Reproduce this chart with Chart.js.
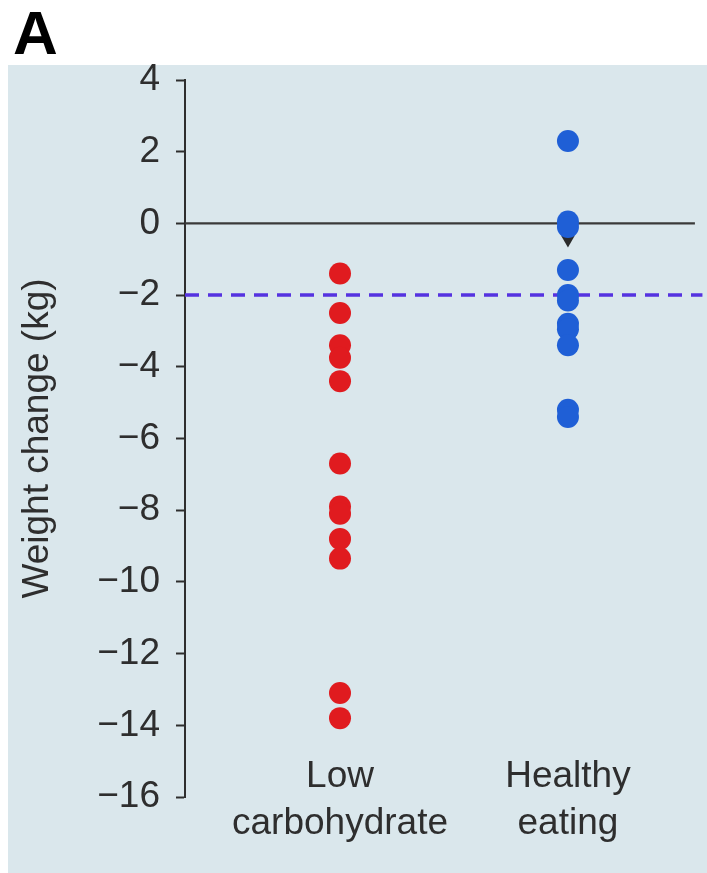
<!DOCTYPE html>
<html>
<head>
<meta charset="utf-8">
<script src="https://cdn.jsdelivr.net/npm/chart.js@4/dist/chart.umd.min.js"></script>
<style>
  html, body { margin: 0; padding: 0; background: #ffffff; }
  canvas { display: block; }
</style>
</head>
<body>
<canvas id="chart" width="707" height="873"></canvas>
<script>
// Weight change (kg) per participant, by diet group
const groupNames = ['Low carbohydrate', 'Healthy eating'];
const groupLabels = [['Low', 'carbohydrate'], ['Healthy', 'eating']];
const groupPositions = [1, 2];
const lowCarbChange = [-1.4, -2.5, -3.4, -3.75, -4.4, -6.7, -7.9, -8.1, -8.8, -9.35, -13.1, -13.8];
const healthyChange = [2.3, 0.05, -0.1, -1.3, -2.0, -2.15, -2.8, -2.95, -3.4, -5.2, -5.4];
const healthyMarker = [-0.45];
const yTickValues = [4, 2, 0, -2, -4, -6, -8, -10, -12, -14, -16];
const zeroLevel = 0;
const referenceLevel = -2;

// horizontal extent of the x scale (group units)
const xMin = 0.32, xMax = 2.61;
const zeroLineEnd = 2.557, referenceLineEnd = 2.59;

const FONT = '"Liberation Sans", Arial, Helvetica, sans-serif';
const INK = '#2e2e2e';
const PANEL = '#dae7ec';

const panelPlugin = {
  id: 'panel',
  beforeDraw(chart) {
    const ctx = chart.ctx;
    ctx.save();
    ctx.fillStyle = '#ffffff';
    ctx.fillRect(0, 0, chart.width, chart.height);
    ctx.fillStyle = PANEL;
    ctx.fillRect(8, 65, chart.width - 8, chart.height - 65);
    ctx.fillStyle = '#000000';
    ctx.font = 'bold 62px ' + FONT;
    ctx.textBaseline = 'alphabetic';
    ctx.textAlign = 'left';
    ctx.fillText('A', 13, 54);
    ctx.restore();
  }
};

const points = (xs, ys) => ys.map(v => ({ x: xs, y: v }));

new Chart(document.getElementById('chart'), {
  type: 'scatter',
  data: {
    datasets: [
      {
        label: groupNames[0],
        data: points(groupPositions[0], lowCarbChange),
        backgroundColor: '#e01b1f',
        borderColor: '#e01b1f',
        pointRadius: 11,
        pointBorderWidth: 0
      },
      {
        label: groupNames[1],
        data: points(groupPositions[1], healthyChange),
        backgroundColor: '#1f5fd6',
        borderColor: '#1f5fd6',
        pointRadius: 11,
        pointBorderWidth: 0
      },
      {
        label: 'marker',
        data: points(groupPositions[1], healthyMarker),
        backgroundColor: '#2b2b2b',
        borderColor: '#2b2b2b',
        pointStyle: 'triangle',
        rotation: 180,
        pointRadius: 8,
        pointBorderWidth: 0
      },
      {
        type: 'line',
        label: 'zero',
        data: [{ x: xMin, y: zeroLevel }, { x: zeroLineEnd, y: zeroLevel }],
        borderColor: '#3a3a3a',
        borderWidth: 2.2,
        pointRadius: 0,
        fill: false
      },
      {
        type: 'line',
        label: 'reference',
        data: [{ x: xMin, y: referenceLevel }, { x: referenceLineEnd, y: referenceLevel }],
        borderColor: '#5533e0',
        borderWidth: 3.5,
        borderDash: [14, 9],
        pointRadius: 0,
        fill: false
      }
    ]
  },
  options: {
    responsive: false,
    animation: false,
    devicePixelRatio: 1,
    layout: { autoPadding: false, padding: { left: 8, top: 80, right: 0, bottom: 0 } },
    plugins: {
      legend: { display: false },
      tooltip: { enabled: false }
    },
    scales: {
      x: {
        type: 'linear',
        min: xMin,
        max: xMax,
        afterBuildTicks(scale) {
          scale.ticks = groupPositions.map(v => ({ value: v }));
        },
        afterFit(scale) {
          scale.height = 76;
          scale.paddingLeft = 0;
          scale.paddingRight = 0;
          // group names sit just above the lower end of the value axis
          scale._computeLabelArea = () => undefined;
        },
        grid: { display: false, drawTicks: false },
        border: { display: false },
        ticks: {
          autoSkip: false,
          maxRotation: 0,
          padding: -43,
          color: INK,
          font: { family: FONT, size: 37, lineHeight: 1.25 },
          callback: (v, i) => groupLabels[i]
        }
      },
      y: {
        min: -16,
        max: 4,
        afterBuildTicks(scale) {
          scale.ticks = yTickValues.map(v => ({ value: v }));
        },
        afterFit(scale) {
          scale.width = 177;
          scale.paddingTop = 0;
          scale.paddingBottom = 0;
        },
        grid: {
          drawOnChartArea: false,
          drawTicks: true,
          tickLength: 9,
          tickWidth: 2,
          tickColor: INK
        },
        border: { display: true, color: INK, width: 2 },
        ticks: {
          padding: 16,
          color: INK,
          font: { family: FONT, size: 37 },
          callback: v => String(v).replace('-', '\u2212')
        },
        title: {
          display: true,
          text: 'Weight change (kg)',
          color: INK,
          font: { family: FONT, size: 37 },
          padding: { top: 8, bottom: 0 }
        }
      }
    }
  },
  plugins: [panelPlugin]
});
</script>
</body>
</html>
